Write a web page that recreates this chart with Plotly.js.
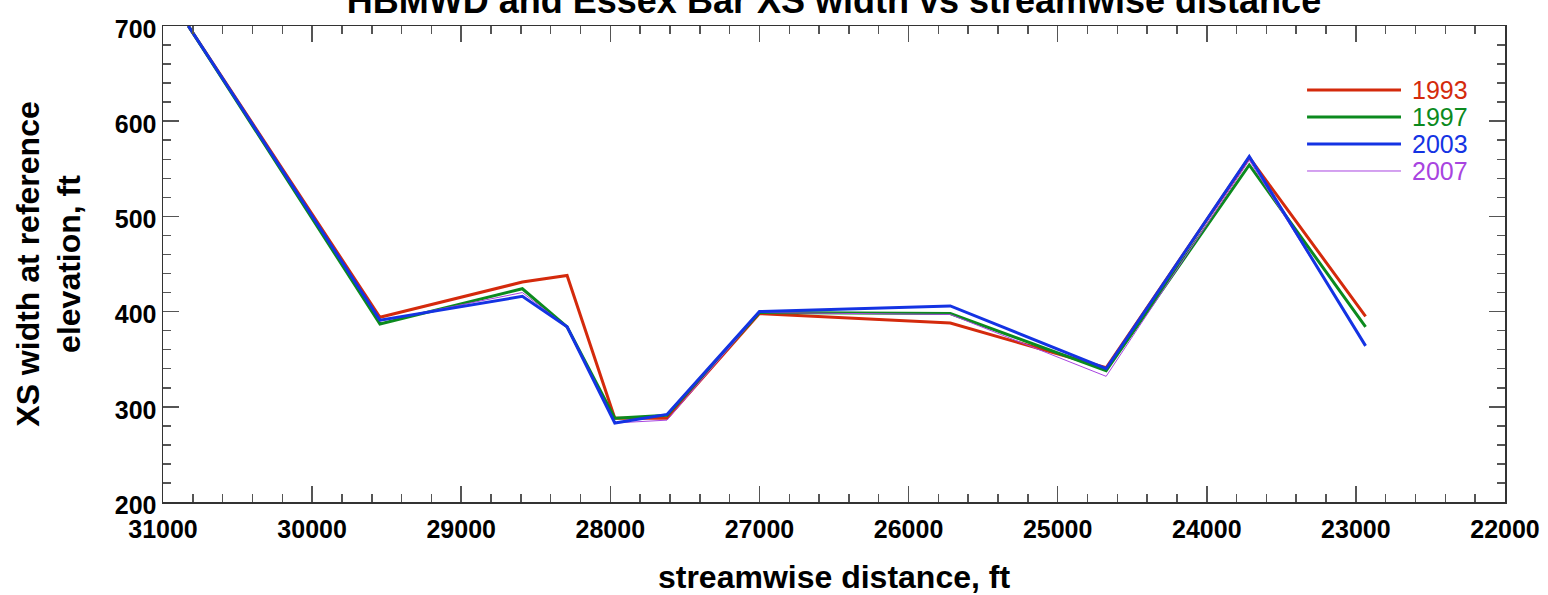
<!DOCTYPE html>
<html>
<head>
<meta charset="utf-8">
<script src="https://cdn.plot.ly/plotly-3.0.1.min.js"></script>
<style>html,body{margin:0;padding:0;background:#fff;}#chart{width:1548px;height:595px;}</style>
</head>
<body>
<div id="chart"></div>
<script>
// streamwise distance of each cross-section, ft
const distance = [30830, 29545, 28590, 28290, 27970, 27620, 27000, 25720, 24675, 23715, 22935];
const years = ['1993', '1997', '2003', '2007'];
const w1993 = [700, 394, 431, 438, 288, 288, 398, 388, 341, 562, 395];
const w1997 = [700, 387, 424, 384, 288, 291, 399, 398, 338, 554, 384];
const w2003 = [700, 391, 416, 384, 283, 292, 400, 406, 340, 563, 364];
const w2007 = [700, 390, 420, 384, 283, 286, 399, 397, 332, 559, 365];
const xTickVals = [31000, 30000, 29000, 28000, 27000, 26000, 25000, 24000, 23000, 22000];
const yTickVals = [200, 300, 400, 500, 600, 700];

const colors = {'1993': '#d42a0c', '1997': '#0b8a1e', '2003': '#1433e3', '2007': '#a844e0'};
const widths = {'1993': 3, '1997': 3, '2003': 3, '2007': 1};
const series = {'1993': w1993, '1997': w1997, '2003': w2003, '2007': w2007};
const drawOrder = ['1993', '1997', '2007', '2003'];

const traces = drawOrder.map(y => ({
  x: distance, y: series[y], type: 'scatter', mode: 'lines', name: y,
  line: {color: colors[y], width: widths[y]}, showlegend: false
}));

// custom legend (long line samples, coloured labels)
const legY = [0.8655, 0.8088, 0.7521, 0.6954];
const shapes = [], annotations = [];
years.forEach((y, i) => {
  shapes.push({type: 'line', xref: 'paper', yref: 'paper', x0: 0.8525, x1: 0.9225, y0: legY[i], y1: legY[i],
    line: {color: colors[y], width: widths[y]}});
  annotations.push({xref: 'paper', yref: 'paper', x: 0.9292, y: legY[i], xanchor: 'left', yanchor: 'middle',
    text: y, showarrow: false, font: {family: 'Liberation Sans, Arial, sans-serif', size: 25, color: colors[y]}});
});

const F = 'Liberation Sans, Arial, Helvetica, sans-serif';
const layout = {
  width: 1548, height: 595,
  margin: {l: 163, r: 43, t: 26, b: 93},
  paper_bgcolor: '#fff', plot_bgcolor: '#fff',
  title: {text: 'HBMWD and Essex Bar XS width vs streamwise distance', x: 0.5, xref: 'paper', y: 1.0, yref: 'container', yanchor: 'middle',
    font: {family: F, size: 36, weight: 'bold', color: '#000'}},
  xaxis: {
    range: [31000, 22000], tickvals: xTickVals, ticktext: xTickVals.map(String),
    ticks: 'inside', ticklen: 16, tickwidth: 1.5, tickcolor: '#555', ticklabelstandoff: 4,
    minor: {dtick: 200, tick0: 0, ticks: 'inside', ticklen: 8, tickwidth: 1.5, tickcolor: '#555', showgrid: false},
    showline: true, linecolor: '#333', linewidth: 1.5, mirror: 'allticks', showgrid: false, zeroline: false,
    tickfont: {family: F, size: 25, weight: 'bold', color: '#000'},
    title: {text: 'streamwise distance, ft', standoff: 28, font: {family: F, size: 32, weight: 'bold', color: '#000'}}
  },
  yaxis: {
    range: [200, 700], tickvals: yTickVals, ticktext: yTickVals.map(String),
    ticks: 'inside', ticklen: 16, tickwidth: 1.5, tickcolor: '#555', ticklabelshift: 3,
    minor: {dtick: 20, tick0: 0, ticks: 'inside', ticklen: 8, tickwidth: 1.5, tickcolor: '#555', showgrid: false},
    showline: true, linecolor: '#333', linewidth: 1.5, mirror: 'allticks', showgrid: false, zeroline: false,
    tickfont: {family: F, size: 25, weight: 'bold', color: '#000'},
    title: {text: 'XS width at reference<br>elevation, ft', standoff: 24, font: {family: F, size: 32, weight: 'bold', color: '#000'}}
  },
  shapes: shapes, annotations: annotations
};

Plotly.newPlot('chart', traces, layout, {displayModeBar: false, staticPlot: true});
</script>
</body>
</html>
